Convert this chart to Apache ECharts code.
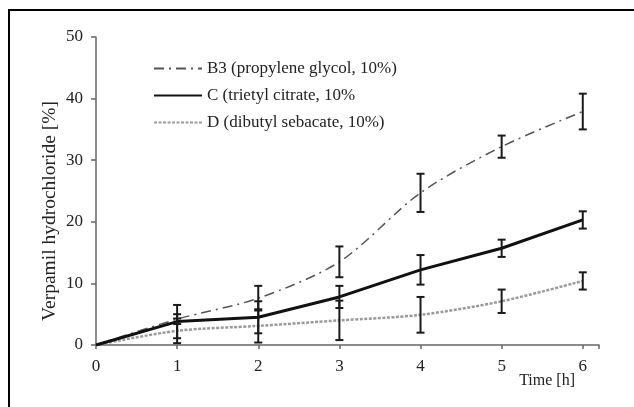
<!DOCTYPE html>
<html>
<head>
<meta charset="utf-8">
<script src="https://cdn.jsdelivr.net/npm/echarts@6/dist/echarts.min.js"></script>
<style>
  html, body { margin: 0; padding: 0; background: #fff; }
  #frame { position: absolute; left: 8px; top: 9px; width: 640px; height: 420px;
           border-top: 2px solid #000; border-left: 2px solid #000; }
  #chart { position: absolute; left: 0; top: 0; width: 634px; height: 407px; }
</style>
</head>
<body>
<div id="frame"></div>
<div id="chart"></div>
<script>
// data
const time = [0, 1, 2, 3, 4, 5, 6]
const b3 = [0, 4.2, 7.6, 13.5, 24.7, 32.2, 37.9]
const b3Err = [0, 0.8, 2.0, 2.5, 3.1, 1.8, 2.9]
const c = [0, 3.8, 4.5, 7.8, 12.2, 15.7, 20.3]
const cErr = [0, 2.7, 2.6, 1.8, 2.4, 1.4, 1.4]
const d = [0, 2.3, 3.1, 4.0, 4.9, 7.1, 10.4]
const dErr = [0, 2.0, 2.7, 3.2, 2.9, 1.9, 1.4]
const yTicks = [0, 10, 20, 30, 40, 50]

const names = ['B3 (propylene glycol, 10%)', 'C (trietyl citrate, 10%', 'D (dibutyl sebacate, 10%)']
const font = 'Liberation Serif, Times New Roman, serif'

function pairs(vals) {
  return time.map((t, i) => [t, vals[i]])
}

function errData(vals, errs) {
  return time.map((t, i) => [t, vals[i] - errs[i], vals[i] + errs[i]]).filter((r, i) => errs[i] > 0)
}

// vertical bar with caps, drawn through the axes
function errBar(params, api) {
  const lo = api.coord([api.value(0), api.value(1)])
  const hi = api.coord([api.value(0), api.value(2)])
  const w = 4
  const style = { stroke: '#1a1a1a', lineWidth: 2 }
  return {
    type: 'group',
    children: [
      { type: 'line', shape: { x1: lo[0], y1: lo[1], x2: hi[0], y2: hi[1] }, style },
      { type: 'line', shape: { x1: lo[0] - w, y1: lo[1], x2: lo[0] + w, y2: lo[1] }, style },
      { type: 'line', shape: { x1: hi[0] - w, y1: hi[1], x2: hi[0] + w, y2: hi[1] }, style }
    ]
  }
}

const chart = echarts.init(document.getElementById('chart'))
const option = {
  animation: false,
  grid: { left: 96, right: 35, top: 37, bottom: 62 },
  legend: {
    data: names,
    orient: 'vertical',
    left: 148,
    top: 55,
    itemWidth: 48,
    itemHeight: 16,
    itemGap: 10,
    itemStyle: { opacity: 0 },
    textStyle: { fontFamily: font, fontSize: 17, color: '#222' }
  },
  xAxis: {
    type: 'value',
    min: 0,
    max: 6.2,
    interval: 1,
    splitLine: { show: false },
    axisLine: { lineStyle: { color: '#666', width: 1.5 } },
    axisTick: { length: 4, lineStyle: { color: '#666', width: 1.5 } },
    axisLabel: {
      fontFamily: font, fontSize: 17, color: '#222', margin: 13,
      formatter: v => (Number.isInteger(v) ? String(v) : '')
    }
  },
  yAxis: {
    type: 'value',
    min: yTicks[0],
    max: yTicks[yTicks.length - 1],
    interval: 10,
    splitLine: { show: false },
    axisLine: { show: true, lineStyle: { color: '#666', width: 1.5 } },
    axisTick: { show: true, length: 5, lineStyle: { color: '#666', width: 1.5 } },
    axisLabel: { fontFamily: font, fontSize: 17, color: '#222', margin: 13 }
  },
  graphic: [
    {
      type: 'text', right: 59, top: 373,
      style: { text: 'Time [h]', font: '16px ' + font, fill: '#222' }
    },
    {
      type: 'text', x: 50, y: 211, rotation: Math.PI / 2,
      style: {
        text: 'Verpamil hydrochloride [%]', font: '19.5px ' + font, fill: '#222',
        align: 'center', verticalAlign: 'middle'
      }
    }
  ],
  series: [
    {
      name: names[0], type: 'line', data: pairs(b3), symbol: 'none', smooth: 0.3,
      lineStyle: { color: '#555', width: 1.5, type: [10, 5, 2, 5] },
      itemStyle: { color: '#555' }, z: 3
    },
    {
      name: names[1], type: 'line', data: pairs(c), symbol: 'none',
      lineStyle: { color: '#111', width: 3 },
      itemStyle: { color: '#111' }, z: 4
    },
    {
      name: names[2], type: 'line', data: pairs(d), symbol: 'none', smooth: 0.3,
      lineStyle: { color: '#9a9a9a', width: 2.5, type: [3, 1.5] },
      itemStyle: { color: '#9a9a9a' }, z: 3
    },
    { type: 'custom', renderItem: errBar, data: errData(b3, b3Err), encode: { x: 0, y: [1, 2] }, z: 5 },
    { type: 'custom', renderItem: errBar, data: errData(c, cErr), encode: { x: 0, y: [1, 2] }, z: 5 },
    { type: 'custom', renderItem: errBar, data: errData(d, dErr), encode: { x: 0, y: [1, 2] }, z: 5 }
  ]
}
option && chart.setOption(option)
</script>
</body>
</html>
